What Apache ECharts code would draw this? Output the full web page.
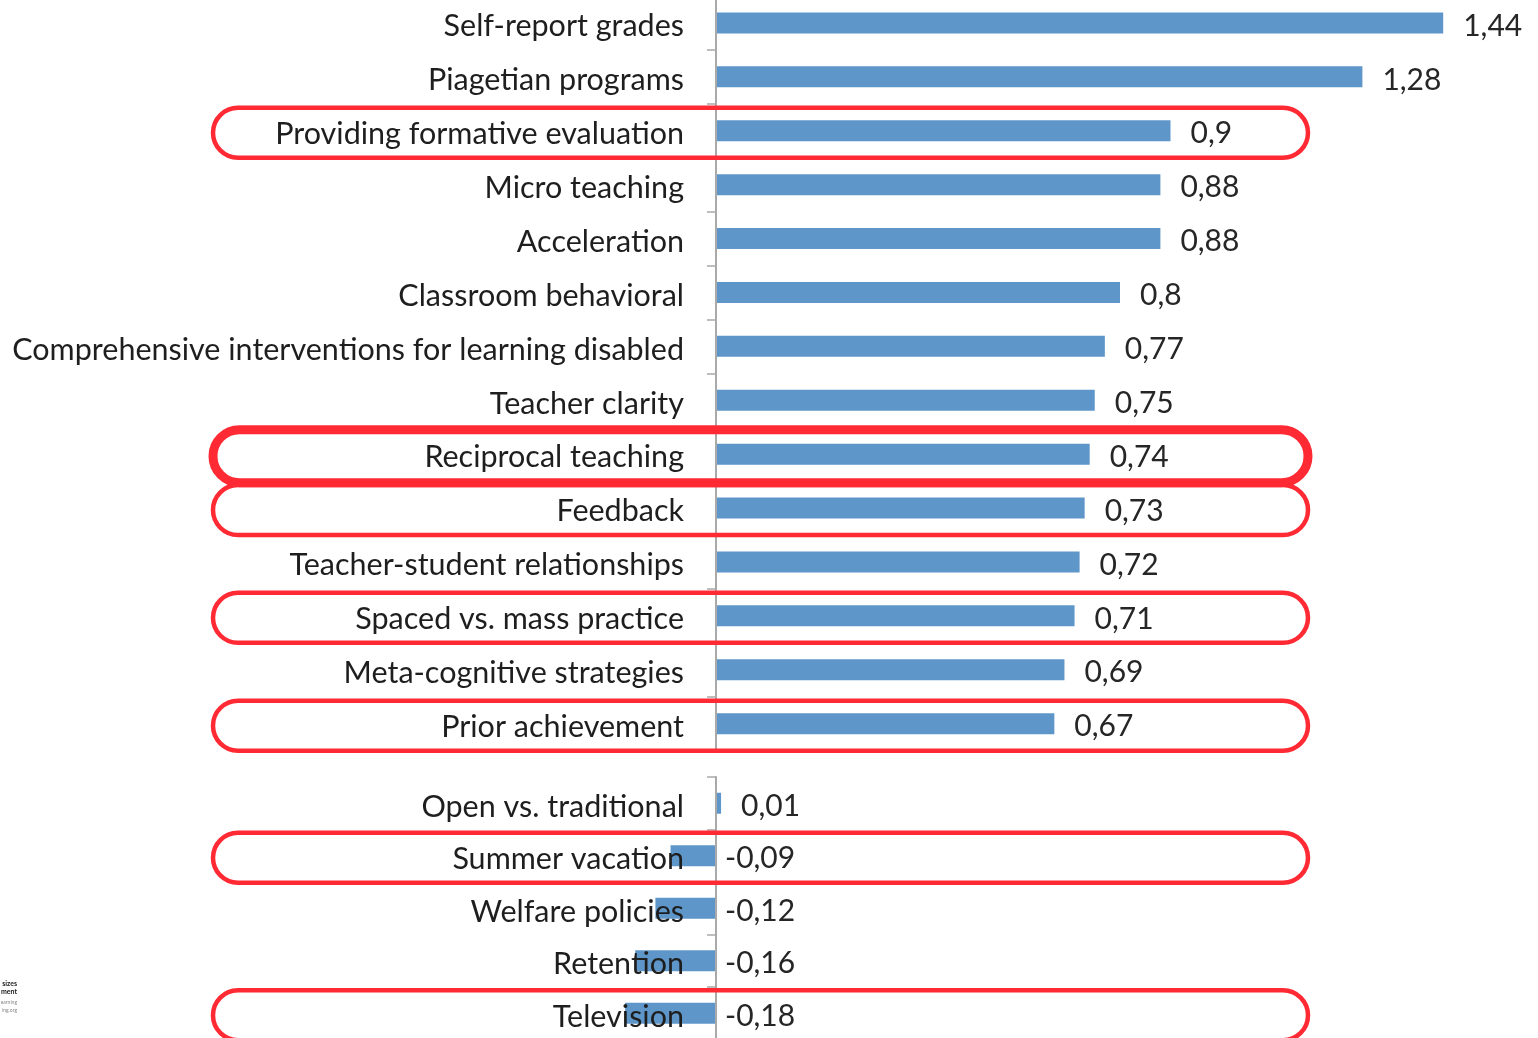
<!DOCTYPE html>
<html>
<head>
<meta charset="utf-8">
<script src="https://cdn.jsdelivr.net/npm/echarts@6/dist/echarts.min.js"></script>
<style>
html,body{margin:0;padding:0;background:#fff;}
#chart{width:1538px;height:1038px;}
</style>
</head>
<body>
<div id="chart"></div>
<script>
// ---- data ----
const categoriesTop = [
  "Self-report grades",
  "Piagetian programs",
  "Providing formative evaluation",
  "Micro teaching",
  "Acceleration",
  "Classroom behavioral",
  "Comprehensive interventions for learning disabled",
  "Teacher clarity",
  "Reciprocal teaching",
  "Feedback",
  "Teacher-student relationships",
  "Spaced vs. mass practice",
  "Meta-cognitive strategies",
  "Prior achievement"
];
const valuesTop = [1.44, 1.28, 0.9, 0.88, 0.88, 0.8, 0.77, 0.75, 0.74, 0.73, 0.72, 0.71, 0.69, 0.67];

const categoriesBottom = [
  "Open vs. traditional",
  "Summer vacation",
  "Welfare policies",
  "Retention",
  "Television"
];
const valuesBottom = [0.01, -0.09, -0.12, -0.16, -0.18];

const highlighted = [
  "Providing formative evaluation",
  "Reciprocal teaching",
  "Feedback",
  "Spaced vs. mass practice",
  "Prior achievement",
  "Summer vacation",
  "Television"
];
const emphasized = ["Reciprocal teaching"];

const cornerNote = ["sizes", "ment", "earning", "ing.org"];

// ---- chart ----
const chart = echarts.init(document.getElementById('chart'));
const FONT = 'Lato, "Open Sans", sans-serif';
const fmt = v => String(v).replace('.', ',');
const GRID_LEFT = 615;

function barData(vals) {
  return vals.map(v => ({
    value: v,
    label: {
      show: true,
      position: 'right',
      distance: v < 0 ? 9 : 20,
      offset: [0, 3],
      formatter: () => fmt(v),
      fontSize: 30,
      fontFamily: FONT,
      color: '#262626'
    }
  }));
}

function yAxisCfg(idx, data) {
  return {
    gridIndex: idx,
    type: 'category',
    data: data,
    inverse: true,
    z: 5,
    axisLine: { onZero: false, lineStyle: { color: '#a9a9a9', width: 2 } },
    axisTick: { show: true, length: 9, lineStyle: { color: '#a9a9a9', width: 1.5 } },
    axisLabel: {
      margin: 32,
      formatter: name => '{a|' + name + '}',
      rich: {
        a: { fontSize: 30.5, fontFamily: FONT, color: '#1e1e1e', padding: [7, 0, 0, 0] }
      }
    },
    splitLine: { show: false }
  };
}

const option = {
  backgroundColor: '#ffffff',
  animation: false,
  grid: [
    { left: GRID_LEFT, width: 909, top: -4, height: 754.6, outerBoundsMode: 'none', containLabel: false },
    { left: GRID_LEFT, width: 909, top: 777, height: 262.5, outerBoundsMode: 'none', containLabel: false }
  ],
  xAxis: [
    { gridIndex: 0, type: 'value', min: -0.2, max: 1.6, show: false },
    { gridIndex: 1, type: 'value', min: -0.2, max: 1.6, show: false }
  ],
  yAxis: [yAxisCfg(0, categoriesTop), yAxisCfg(1, categoriesBottom)],
  series: [
    {
      type: 'bar', xAxisIndex: 0, yAxisIndex: 0, barWidth: 21,
      itemStyle: { color: '#5e96ca' },
      data: barData(valuesTop)
    },
    {
      type: 'bar', xAxisIndex: 1, yAxisIndex: 1, barWidth: 21,
      itemStyle: { color: '#5e96ca' },
      data: barData(valuesBottom)
    }
  ]
};
chart.setOption(option);

// move the category axes (line, ticks and labels) onto the zero line
const zeroX = [0, 1].map(i => chart.convertToPixel({ xAxisIndex: i }, 0));
chart.setOption({
  yAxis: [
    { offset: -(zeroX[0] - GRID_LEFT) },
    { offset: -(zeroX[1] - GRID_LEFT) }
  ]
});

// ---- annotations: red rounded outlines around highlighted rows ----
const graphics = [];
highlighted.forEach(name => {
  let idx = categoriesTop.indexOf(name) >= 0 ? 0 : 1;
  const y = chart.convertToPixel({ yAxisIndex: idx }, name);
  const thick = emphasized.indexOf(name) >= 0;
  const h = thick ? 53 : 50;
  graphics.push({
    type: 'rect',
    z: 100,
    shape: { x: 213, y: y + 2 - h / 2, width: 1095, height: h, r: h / 2 },
    style: { fill: 'none', stroke: '#ff2a33', lineWidth: thick ? 9 : 4.5 }
  });
});
// clipped source note in bottom-left corner
graphics.push(
  { type: 'text', z: 100, style: { x: 17, y: 984, text: cornerNote[0], align: 'right', verticalAlign: 'middle', fontSize: 7, fontWeight: 'bold', fill: '#222', fontFamily: FONT } },
  { type: 'text', z: 100, style: { x: 17, y: 992, text: cornerNote[1], align: 'right', verticalAlign: 'middle', fontSize: 7, fontWeight: 'bold', fill: '#222', fontFamily: FONT } },
  { type: 'text', z: 100, style: { x: 17, y: 1002, text: cornerNote[2], align: 'right', verticalAlign: 'middle', fontSize: 5, fill: '#888', fontFamily: FONT } },
  { type: 'text', z: 100, style: { x: 17, y: 1010, text: cornerNote[3], align: 'right', verticalAlign: 'middle', fontSize: 5, fill: '#888', fontFamily: FONT } }
);
chart.setOption({ graphic: graphics });
</script>
</body>
</html>
